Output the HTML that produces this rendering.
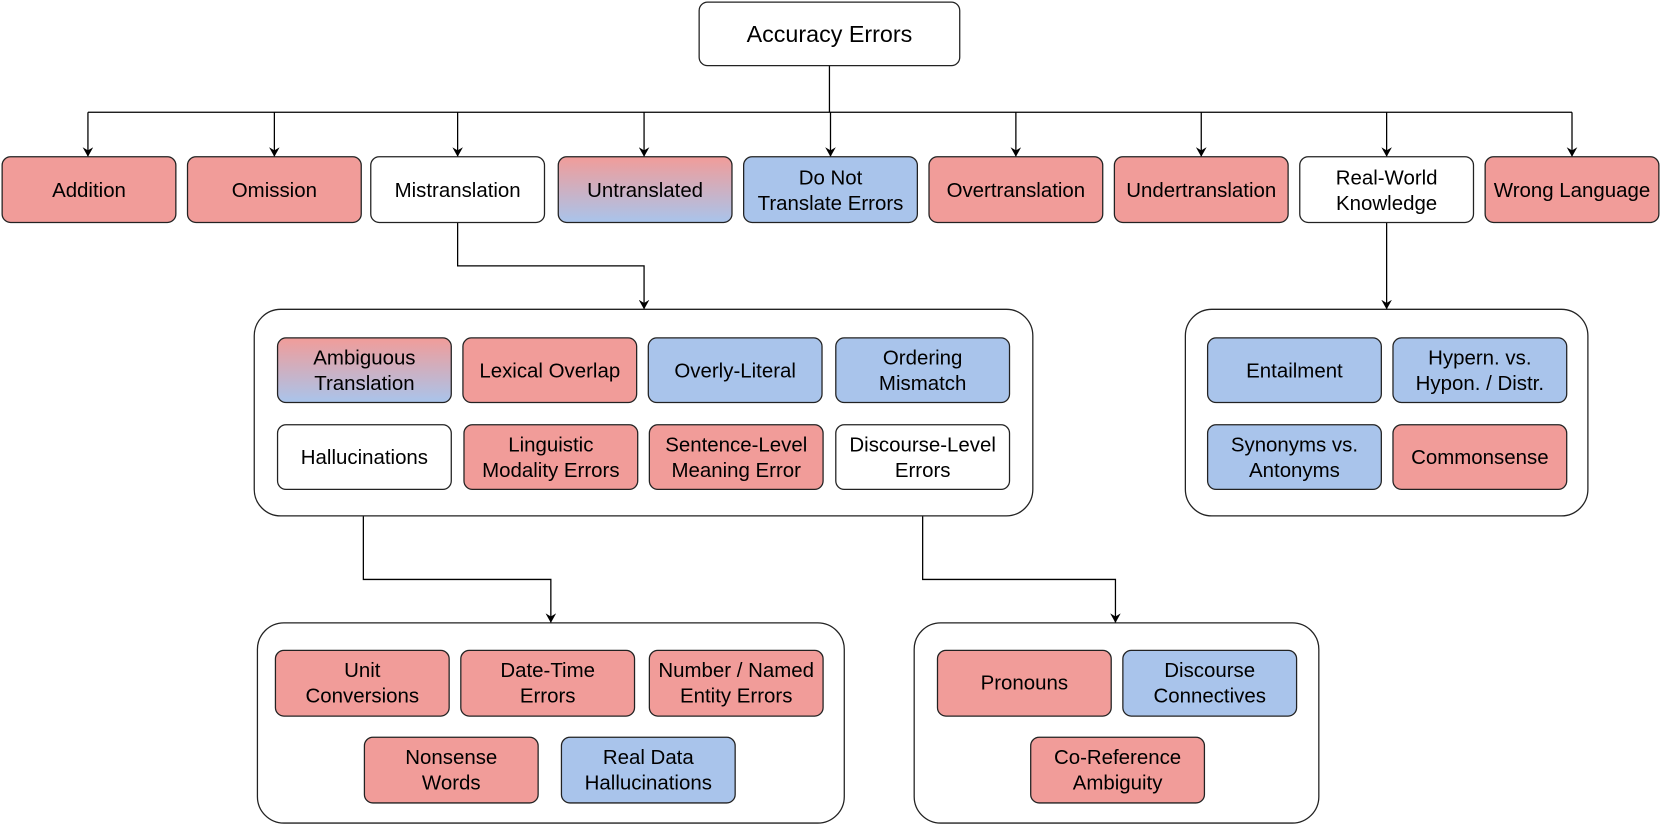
<!DOCTYPE html>
<html><head><meta charset="utf-8"><style>html,body{margin:0;padding:0;background:#fff}svg{display:block}text{font-family:"Liberation Sans",Arial,sans-serif;fill:#000;text-anchor:middle;dominant-baseline:central}</style></head><body>
<svg width="1661" height="829" viewBox="0 0 1568 782.6" xmlns="http://www.w3.org/2000/svg">
<defs>
<marker id="a" markerWidth="10" markerHeight="10" refX="9" refY="5" orient="auto" markerUnits="userSpaceOnUse"><path d="M0,0 L9,5 L0,10 L3,5 Z" fill="#000"/></marker>
<linearGradient id="g" x1="0" y1="0" x2="0" y2="1"><stop offset="0" stop-color="#f19c99"/><stop offset="1" stop-color="#a9c4eb"/></linearGradient>
</defs>
<g fill="none" stroke="#000" stroke-width="1.2">
<path d="M783,62V106"/>
<path d="M83,106H1484"/>
<path d="M83,106V148" marker-end="url(#a)"/><path d="M259,106V148" marker-end="url(#a)"/><path d="M432,106V148" marker-end="url(#a)"/><path d="M608,106V148" marker-end="url(#a)"/><path d="M784,106V148" marker-end="url(#a)"/><path d="M959,106V148" marker-end="url(#a)"/><path d="M1134,106V148" marker-end="url(#a)"/><path d="M1309,106V148" marker-end="url(#a)"/><path d="M1484,106V148" marker-end="url(#a)"/>
<path d="M432,210V251H608V292" marker-end="url(#a)"/>
<path d="M1309,210V292" marker-end="url(#a)"/>
<path d="M343,462V547H520V588" marker-end="url(#a)"/>
<path d="M871,462V547H1053V588" marker-end="url(#a)"/>
</g>
<g stroke="#222" stroke-width="1.2">
<rect x="660" y="2" width="246" height="60" rx="8" fill="#fff"/>
<rect x="240" y="292" width="735" height="195" rx="25" fill="#fff"/>
<rect x="1119" y="292" width="380" height="195" rx="25" fill="#fff"/>
<rect x="243" y="588" width="554" height="189" rx="25" fill="#fff"/>
<rect x="863" y="588" width="382" height="189" rx="25" fill="#fff"/>
<g>
<rect x="2" y="148" width="164" height="62" rx="8" fill="#f19c99"/>
<rect x="177" y="148" width="164" height="62" rx="8" fill="#f19c99"/>
<rect x="350" y="148" width="164" height="62" rx="8" fill="#fff"/>
<rect x="527" y="148" width="164" height="62" rx="8" fill="url(#g)"/>
<rect x="702" y="148" width="164" height="62" rx="8" fill="#a9c4eb"/>
<rect x="877" y="148" width="164" height="62" rx="8" fill="#f19c99"/>
<rect x="1052" y="148" width="164" height="62" rx="8" fill="#f19c99"/>
<rect x="1227" y="148" width="164" height="62" rx="8" fill="#fff"/>
<rect x="1402" y="148" width="164" height="62" rx="8" fill="#f19c99"/>
<rect x="262" y="319" width="164" height="61" rx="8" fill="url(#g)"/>
<rect x="437" y="319" width="164" height="61" rx="8" fill="#f19c99"/>
<rect x="612" y="319" width="164" height="61" rx="8" fill="#a9c4eb"/>
<rect x="789" y="319" width="164" height="61" rx="8" fill="#a9c4eb"/>
<rect x="262" y="401" width="164" height="61" rx="8" fill="#fff"/>
<rect x="438" y="401" width="164" height="61" rx="8" fill="#f19c99"/>
<rect x="613" y="401" width="164" height="61" rx="8" fill="#f19c99"/>
<rect x="789" y="401" width="164" height="61" rx="8" fill="#fff"/>
<rect x="1140" y="319" width="164" height="61" rx="8" fill="#a9c4eb"/>
<rect x="1315" y="319" width="164" height="61" rx="8" fill="#a9c4eb"/>
<rect x="1140" y="401" width="164" height="61" rx="8" fill="#a9c4eb"/>
<rect x="1315" y="401" width="164" height="61" rx="8" fill="#f19c99"/>
<rect x="260" y="614" width="164" height="62" rx="8" fill="#f19c99"/>
<rect x="435" y="614" width="164" height="62" rx="8" fill="#f19c99"/>
<rect x="613" y="614" width="164" height="62" rx="8" fill="#f19c99"/>
<rect x="344" y="696" width="164" height="62" rx="8" fill="#f19c99"/>
<rect x="530" y="696" width="164" height="62" rx="8" fill="#a9c4eb"/>
<rect x="885" y="614" width="164" height="62" rx="8" fill="#f19c99"/>
<rect x="1060" y="614" width="164" height="62" rx="8" fill="#a9c4eb"/>
<rect x="973" y="696" width="164" height="62" rx="8" fill="#f19c99"/>
</g></g>
<g font-size="19.3">
<text x="783" y="32" font-size="22">Accuracy Errors</text>
<text x="84" y="180">Addition</text>
<text x="259" y="180">Omission</text>
<text x="432" y="180">Mistranslation</text>
<text x="609" y="180">Untranslated</text>
<text x="784" y="168">Do Not</text><text x="784" y="192">Translate Errors</text>
<text x="959" y="180">Overtranslation</text>
<text x="1134" y="180">Undertranslation</text>
<text x="1309" y="168">Real-World</text><text x="1309" y="192">Knowledge</text>
<text x="1484" y="180">Wrong Language</text>
<text x="344" y="338">Ambiguous</text><text x="344" y="362">Translation</text>
<text x="519" y="350">Lexical Overlap</text>
<text x="694" y="350">Overly-Literal</text>
<text x="871" y="338">Ordering</text><text x="871" y="362">Mismatch</text>
<text x="344" y="432">Hallucinations</text>
<text x="520" y="420">Linguistic</text><text x="520" y="444">Modality Errors</text>
<text x="695" y="420">Sentence-Level</text><text x="695" y="444">Meaning Error</text>
<text x="871" y="420">Discourse-Level</text><text x="871" y="444">Errors</text>
<text x="1222" y="350">Entailment</text>
<text x="1397" y="338">Hypern. vs.</text><text x="1397" y="362">Hypon. / Distr.</text>
<text x="1222" y="420">Synonyms vs.</text><text x="1222" y="444">Antonyms</text>
<text x="1397" y="432">Commonsense</text>
<text x="342" y="633">Unit</text><text x="342" y="657">Conversions</text>
<text x="517" y="633">Date-Time</text><text x="517" y="657">Errors</text>
<text x="695" y="633">Number / Named</text><text x="695" y="657">Entity Errors</text>
<text x="426" y="715">Nonsense</text><text x="426" y="739">Words</text>
<text x="612" y="715">Real Data</text><text x="612" y="739">Hallucinations</text>
<text x="967" y="645">Pronouns</text>
<text x="1142" y="633">Discourse</text><text x="1142" y="657">Connectives</text>
<text x="1055" y="715">Co-Reference</text><text x="1055" y="739">Ambiguity</text>
</g>
</svg>
</body></html>
